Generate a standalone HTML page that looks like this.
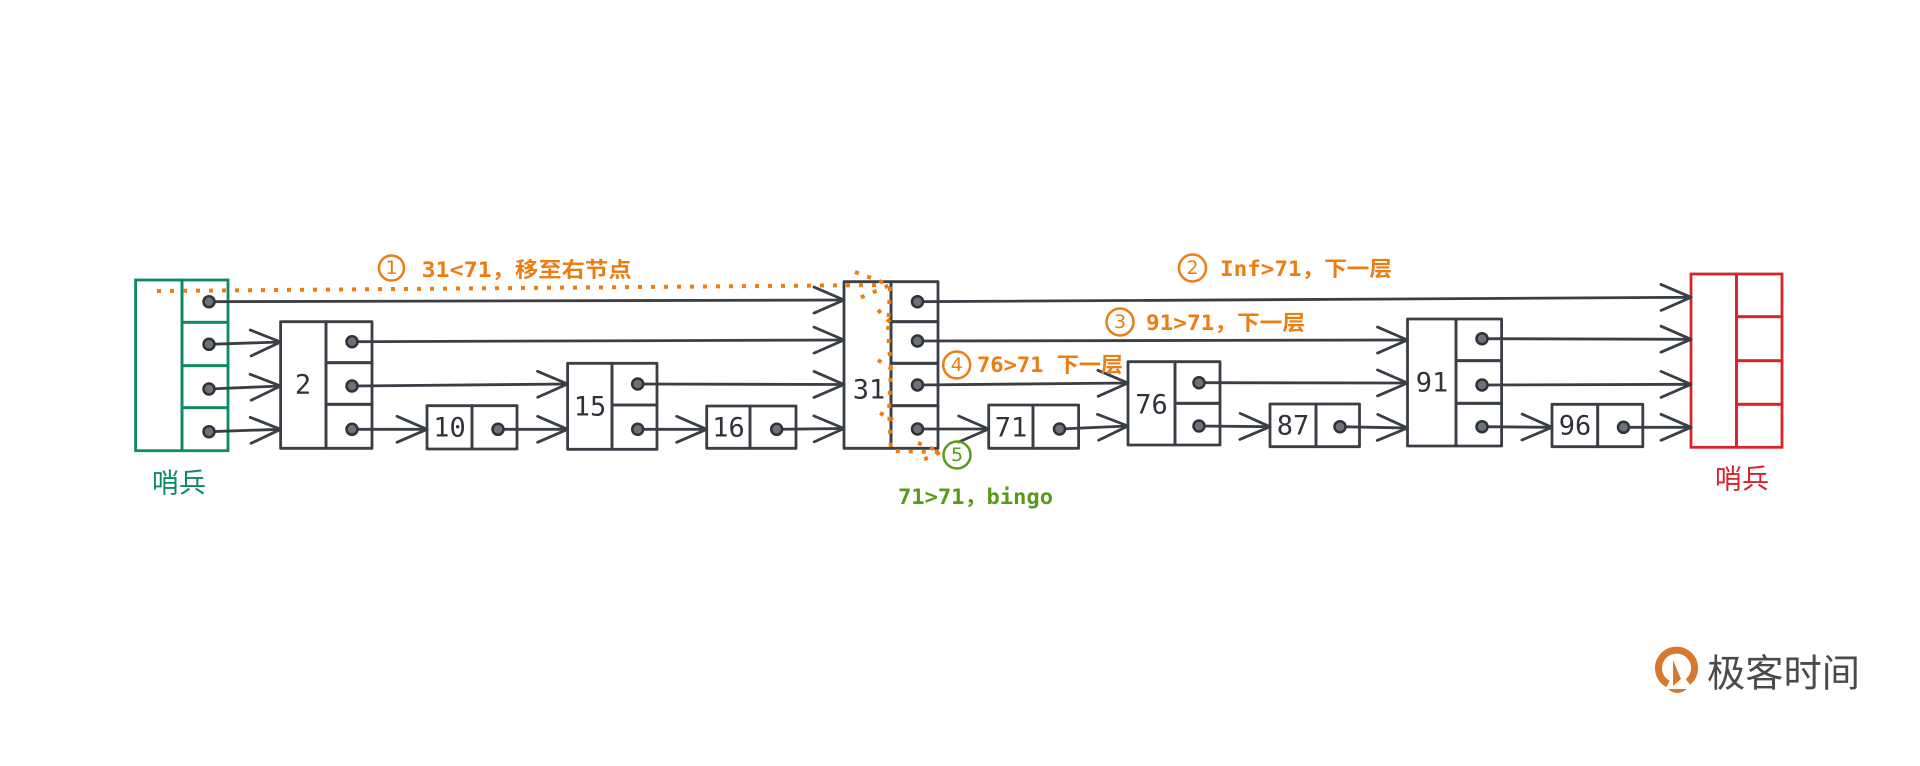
<!DOCTYPE html>
<html><head><meta charset="utf-8"><style>
html,body{margin:0;padding:0;background:#fff;}
svg{display:block;}
.n{fill:none;stroke:#3a3e45;stroke-width:2.8;stroke-linejoin:round;}
.l{fill:none;stroke:#3a3e45;stroke-width:2.8;stroke-linecap:round;}
.d{fill:#6d7178;stroke:#2f3238;stroke-width:2.5;}
.t{font-family:"DejaVu Sans Mono","Liberation Mono",monospace;font-size:27px;fill:#2f3238;text-anchor:middle;dominant-baseline:central;}
.o{font-family:"DejaVu Sans Mono","Noto Sans CJK SC",monospace;font-size:21px;font-weight:bold;fill:#ec7d10;dominant-baseline:central;}
.od{fill:none;stroke:#ec7d10;stroke-width:4;stroke-dasharray:4 9;}
.c{fill:none;stroke:#ec7d10;stroke-width:2.5;}
.ct{font-family:"DejaVu Sans","Liberation Sans",sans-serif;font-size:19px;fill:#ec7d10;text-anchor:middle;dominant-baseline:central;}
</style></head><body>
<svg width="1920" height="766" viewBox="0 0 1920 766" xmlns="http://www.w3.org/2000/svg">
<defs>
<marker id="a" markerWidth="40" markerHeight="40" refX="32" refY="16" orient="auto" markerUnits="userSpaceOnUse">
<path d="M2,3 L32,16 L2,29" fill="none" stroke="#3a3e45" stroke-width="2.8" stroke-linecap="round" stroke-linejoin="round"/>
</marker>
</defs>

<g fill="none" stroke="#0e8a5f" stroke-width="2.8">
<rect x="135.6" y="280" width="46.4" height="170.7"/>
<rect x="182" y="280" width="46" height="42.3"/>
<rect x="182" y="322.3" width="46" height="43.4"/>
<rect x="182" y="365.7" width="46" height="42"/>
<rect x="182" y="407.7" width="46" height="43"/>
</g>
<text x="179" y="481" style="font-family:'Noto Sans CJK SC',sans-serif;font-size:27px;fill:#0e8a5f;" text-anchor="middle" dominant-baseline="central">哨兵</text>

<g fill="none" stroke="#d9232a" stroke-width="2.8">
<rect x="1691" y="274" width="45.5" height="173.3"/>
<rect x="1736.5" y="274" width="45.5" height="42.7"/>
<rect x="1736.5" y="316.7" width="45.5" height="44"/>
<rect x="1736.5" y="360.7" width="45.5" height="43.6"/>
<rect x="1736.5" y="404.3" width="45.5" height="43"/>
</g>
<text x="1742" y="477" style="font-family:'Noto Sans CJK SC',sans-serif;font-size:27px;fill:#d9232a;" text-anchor="middle" dominant-baseline="central">哨兵</text>

<rect class="n" x="280.6" y="321.7" width="45.4" height="126.6"/>
<rect class="n" x="326" y="321.7" width="46" height="41"/>
<rect class="n" x="326" y="362.7" width="46" height="41.6"/>
<rect class="n" x="326" y="404.3" width="46" height="44"/>
<text class="t" x="303" y="385">2</text>
<rect class="n" x="427" y="405.7" width="45" height="43.3"/>
<rect class="n" x="472" y="405.7" width="45" height="43.3"/>
<text class="t" x="449.5" y="428">10</text>
<rect class="n" x="567.6" y="363.3" width="44.4" height="86"/>
<rect class="n" x="612" y="363.3" width="45" height="41.7"/>
<rect class="n" x="612" y="405" width="45" height="44.3"/>
<text class="t" x="590" y="407">15</text>
<rect class="n" x="706.7" y="406" width="43.3" height="42.3"/>
<rect class="n" x="750" y="406" width="46" height="42.3"/>
<text class="t" x="728.5" y="428">16</text>
<rect class="n" x="844" y="281.7" width="47" height="166.6"/>
<rect class="n" x="891" y="281.7" width="47" height="40"/>
<rect class="n" x="891" y="321.7" width="47" height="41.6"/>
<rect class="n" x="891" y="363.3" width="47" height="42.4"/>
<rect class="n" x="891" y="405.7" width="47" height="42.6"/>
<text class="t" x="869" y="390">31</text>
<rect class="n" x="988.7" y="405" width="44.3" height="43.3"/>
<rect class="n" x="1033" y="405" width="45.6" height="43.3"/>
<text class="t" x="1011" y="428">71</text>
<rect class="n" x="1128" y="361.7" width="47" height="83.3"/>
<rect class="n" x="1175" y="361.7" width="45" height="41.6"/>
<rect class="n" x="1175" y="403.3" width="45" height="41.7"/>
<text class="t" x="1151.5" y="405">76</text>
<rect class="n" x="1270" y="404" width="46" height="42.7"/>
<rect class="n" x="1316" y="404" width="43.5" height="42.7"/>
<text class="t" x="1293" y="426">87</text>
<rect class="n" x="1407.5" y="319" width="48.5" height="127"/>
<rect class="n" x="1456" y="319" width="45.6" height="41.7"/>
<rect class="n" x="1456" y="360.7" width="45.6" height="42.6"/>
<rect class="n" x="1456" y="403.3" width="45.6" height="42.7"/>
<text class="t" x="1432" y="383">91</text>
<rect class="n" x="1552" y="404.3" width="45.7" height="42.4"/>
<rect class="n" x="1597.7" y="404.3" width="45.1" height="42.4"/>
<text class="t" x="1575" y="426">96</text>

<g class="l" marker-end="url(#a)">
<line x1="209" y1="301.7" x2="844" y2="300"/>
<line x1="917.5" y1="301.7" x2="1691" y2="297.3"/>
<line x1="209" y1="344.3" x2="280.6" y2="342"/>
<line x1="352" y1="341.7" x2="844" y2="340"/>
<line x1="917.5" y1="341" x2="1407.5" y2="340"/>
<line x1="1482" y1="338.7" x2="1691" y2="339.3"/>
<line x1="209" y1="389" x2="280.6" y2="386"/>
<line x1="352" y1="386" x2="567.6" y2="384"/>
<line x1="637.7" y1="384" x2="844" y2="384.5"/>
<line x1="917.5" y1="385" x2="1128" y2="383"/>
<line x1="1199" y1="382.7" x2="1407.5" y2="383"/>
<line x1="1482" y1="385" x2="1691" y2="384.3"/>
<line x1="209" y1="431.7" x2="280.6" y2="429.3"/>
<line x1="352" y1="429.3" x2="427" y2="429.3"/>
<line x1="498" y1="429.3" x2="567.6" y2="429.3"/>
<line x1="637.7" y1="429.3" x2="706.7" y2="429.3"/>
<line x1="776.7" y1="429.3" x2="844" y2="428.5"/>
<line x1="917.5" y1="429" x2="988.7" y2="429"/>
<line x1="1059.5" y1="429" x2="1128" y2="426"/>
<line x1="1199" y1="426" x2="1270" y2="426.7"/>
<line x1="1340" y1="426.7" x2="1407.5" y2="428"/>
<line x1="1482" y1="426.7" x2="1552" y2="427.3"/>
<line x1="1623.5" y1="427.3" x2="1691" y2="427.3"/>
</g>

<g class="d">
<circle cx="209" cy="301.7" r="5.5"/><circle cx="209" cy="344.3" r="5.5"/><circle cx="209" cy="389" r="5.5"/><circle cx="209" cy="431.7" r="5.5"/>
<circle cx="352" cy="341.7" r="5.5"/><circle cx="352" cy="386" r="5.5"/><circle cx="352" cy="429.3" r="5.5"/>
<circle cx="498" cy="429.3" r="5.5"/>
<circle cx="637.7" cy="384" r="5.5"/><circle cx="637.7" cy="429.3" r="5.5"/>
<circle cx="776.7" cy="429.3" r="5.5"/>
<circle cx="917.5" cy="301.7" r="5.5"/><circle cx="917.5" cy="341" r="5.5"/><circle cx="917.5" cy="385" r="5.5"/><circle cx="917.5" cy="429" r="5.5"/>
<circle cx="1059.5" cy="429" r="5.5"/>
<circle cx="1199" cy="382.7" r="5.5"/><circle cx="1199" cy="426" r="5.5"/>
<circle cx="1340" cy="426.7" r="5.5"/>
<circle cx="1482" cy="338.7" r="5.5"/><circle cx="1482" cy="385" r="5.5"/><circle cx="1482" cy="426.7" r="5.5"/>
<circle cx="1623.5" cy="427.3" r="5.5"/>
</g>

<path class="od" d="M157,291 L885,285"/>
<path class="od" d="M855,272 L890,285 L855,300"/>
<path class="od" d="M890,287 L888,330 L891,370 L889,410 L891,451 L940,452"/>
<path class="od" d="M878,310 L890,322 M878,360 L893,370 M880,413 L893,420"/>
<path class="od" d="M918,443 L941,452 L918,462"/>

<circle class="c" cx="391.5" cy="268" r="12.5"/><text class="ct" x="391.5" y="268">1</text>
<text class="o" x="421.5" y="270" textLength="210" lengthAdjust="spacingAndGlyphs">31&lt;71，移至右节点</text>
<circle class="c" cx="1192.5" cy="268" r="13.5"/><text class="ct" x="1192.5" y="268">2</text>
<text class="o" x="1220" y="269" textLength="172" lengthAdjust="spacingAndGlyphs">Inf&gt;71，下一层</text>
<circle class="c" cx="1120" cy="322" r="13.5"/><text class="ct" x="1120" y="322">3</text>
<text class="o" x="1146" y="323" textLength="159" lengthAdjust="spacingAndGlyphs">91&gt;71，下一层</text>
<circle class="c" cx="956.7" cy="365" r="13.5"/><text class="ct" x="956.7" y="365">4</text>
<text class="o" x="977" y="365" textLength="146" lengthAdjust="spacingAndGlyphs">76&gt;71 下一层</text>
<circle cx="957" cy="455" r="13.5" fill="none" stroke="#5a9a1a" stroke-width="2.5"/>
<text class="ct" x="957" y="455" style="fill:#5a9a1a">5</text>
<text class="o" x="898" y="497" textLength="155" lengthAdjust="spacingAndGlyphs" style="fill:#5a9a1a">71&gt;71，bingo</text>

<g>
<path d="M1668,684 A18,18 0 1 1 1688,682" fill="none" stroke="#d7782f" stroke-width="7"/>
<path d="M1668,689 Q1677,697 1687,689 Z" fill="#d7782f"/>
<path d="M1673,660 L1673,686 L1681,679 Z" fill="#d7782f"/>
<text x="1707" y="670" style="font-family:'Noto Sans CJK SC',sans-serif;font-size:38px;fill:#4a4a4a;" dominant-baseline="central" textLength="153" lengthAdjust="spacingAndGlyphs">极客时间</text>
</g>
</svg>
</body></html>
